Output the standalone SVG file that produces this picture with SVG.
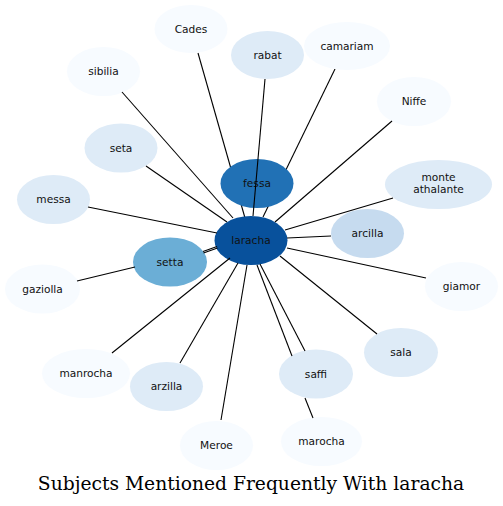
<svg xmlns="http://www.w3.org/2000/svg" width="503" height="506" viewBox="0 0 503 506">
<style>
.e{stroke:#000;stroke-width:1.1;fill:none}
text{font-family:"DejaVu Sans","Liberation Sans",sans-serif;font-size:10.6px;fill:#111;text-anchor:middle}
.l0{fill:#f7fbff}.l1{fill:#deebf7}.l2{fill:#c6dbef}.l3{fill:#6baed6}.l4{fill:#2171b5}.l5{fill:#08519c}
.title{font-family:"DejaVu Serif","Liberation Serif",serif;font-size:18.7px;fill:#000}
</style>
<rect width="503" height="506" fill="#fff"/>
<g id="edges-under">
<line class="e" x1="198" y1="53" x2="245" y2="218"/>
<line class="e" x1="335" y1="69" x2="263" y2="217"/>
</g>
<g id="node-cades"><ellipse class="l0" cx="191" cy="29" rx="36.5" ry="24"/><text x="191" y="32.5">Cades</text></g>
<g id="node-rabat"><ellipse class="l1" cx="267.5" cy="55" rx="36.5" ry="24"/><text x="267.5" y="58.5">rabat</text></g>
<g id="node-camariam"><ellipse class="l0" cx="347" cy="46" rx="43" ry="24"/><text x="347" y="49.5">camariam</text></g>
<g id="node-sibilia"><ellipse class="l0" cx="103.5" cy="71.5" rx="36.5" ry="24.5"/><text x="103.5" y="75">sibilia</text></g>
<g id="node-niffe"><ellipse class="l0" cx="414" cy="101.5" rx="37" ry="24.5"/><text x="414" y="105">Niffe</text></g>
<g id="node-seta"><ellipse class="l1" cx="121" cy="148" rx="36.5" ry="24.5"/><text x="121" y="151.5">seta</text></g>
<g id="node-fessa"><ellipse class="l4" cx="257" cy="183.5" rx="36.5" ry="24.5"/><text x="257" y="187">fessa</text></g>
<g id="node-monte-athalante"><ellipse class="l1" cx="438.5" cy="184.5" rx="53.5" ry="24.5"/><text x="438.5" y="181">monte</text><text x="438.5" y="192.5">athalante</text></g>
<g id="node-messa"><ellipse class="l1" cx="53.5" cy="199.5" rx="36.5" ry="24.5"/><text x="53.5" y="203">messa</text></g>
<g id="node-arcilla"><ellipse class="l2" cx="367.5" cy="233.5" rx="36.5" ry="24.5"/><text x="367.5" y="237">arcilla</text></g>
<g id="node-laracha"><ellipse class="l5" cx="251" cy="240.5" rx="36.5" ry="24.5"/><text x="251" y="244">laracha</text></g>
<g id="node-setta"><ellipse class="l3" cx="170" cy="262" rx="37" ry="24.5"/><text x="170" y="265.5">setta</text></g>
<g id="node-gaziolla"><ellipse class="l0" cx="42.5" cy="289" rx="37.5" ry="24.5"/><text x="42.5" y="292.5">gaziolla</text></g>
<g id="node-giamor"><ellipse class="l0" cx="461.5" cy="286.5" rx="36.5" ry="24.5"/><text x="461.5" y="290">giamor</text></g>
<g id="node-sala"><ellipse class="l1" cx="401" cy="352.5" rx="37" ry="24.5"/><text x="401" y="356">sala</text></g>
<g id="node-manrocha"><ellipse class="l0" cx="86" cy="373.5" rx="44" ry="24.5"/><text x="86" y="377">manrocha</text></g>
<g id="node-saffi"><ellipse class="l1" cx="316" cy="374" rx="37" ry="24.5"/><text x="316" y="377.5">saffi</text></g>
<g id="node-arzilla"><ellipse class="l1" cx="166.5" cy="386.5" rx="36.5" ry="24.5"/><text x="166.5" y="390">arzilla</text></g>
<g id="node-marocha"><ellipse class="l0" cx="321.5" cy="441.5" rx="40.5" ry="24.5"/><text x="321.5" y="445">marocha</text></g>
<g id="node-meroe"><ellipse class="l0" cx="216.5" cy="445.5" rx="36.5" ry="24.5"/><text x="216.5" y="449">Meroe</text></g>
<g id="connectors">
<line class="e" x1="265" y1="79" x2="253" y2="216"/>
<line class="e" x1="122" y1="92" x2="233" y2="218"/>
<line class="e" x1="146" y1="166" x2="227" y2="222"/>
<line class="e" x1="88" y1="207" x2="217" y2="233"/>
<line class="e" x1="392" y1="121" x2="275" y2="222"/>
<line class="e" x1="393" y1="198" x2="285" y2="230"/>
<line class="e" x1="331" y1="236" x2="287" y2="238"/>
<line class="e" x1="287" y1="248" x2="426" y2="278"/>
<line class="e" x1="280" y1="256" x2="377" y2="334"/>
<line class="e" x1="257" y1="265" x2="292" y2="356"/>
<line class="e" x1="260" y1="264" x2="305" y2="351"/>
<line class="e" x1="305" y1="398" x2="313" y2="418"/>
<line class="e" x1="247" y1="265" x2="221" y2="420"/>
<line class="e" x1="238" y1="263" x2="180" y2="363"/>
<line class="e" x1="230" y1="258" x2="112" y2="353"/>
<line class="e" x1="203" y1="251.5" x2="217" y2="246.5"/>
<line class="e" x1="203.5" y1="253" x2="217.5" y2="248"/>
<line class="e" x1="77" y1="281" x2="135" y2="267"/>
</g>
<text class="title" x="251" y="490">Subjects Mentioned Frequently With laracha</text>
</svg>
